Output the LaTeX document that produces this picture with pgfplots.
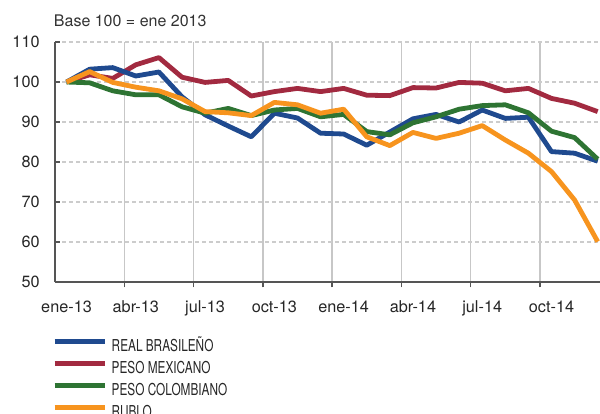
\documentclass[border=0pt]{standalone}
\usepackage{pgfplots}
\pgfplotsset{compat=1.18}
\usepackage{fontspec}
\setmainfont{TeX Gyre Heros}
\newfontfamily\legfont[FakeStretch=0.72]{TeX Gyre Heros}
\definecolor{cblue}{HTML}{1F4A8F}
\definecolor{cred}{HTML}{A22A40}
\definecolor{cgreen}{HTML}{2E7433}
\definecolor{corange}{HTML}{F7941E}
\definecolor{axgray}{HTML}{555555}
\begin{document}
\begin{tikzpicture}
\begin{axis}[
  scale only axis,
  width=408.75pt, height=180pt,
  xmin=-0.5, xmax=23.1,
  ymin=50, ymax=110,
  ytick={50,60,...,110},
  xtick={0,3,...,21},
  xticklabels={ene-13,abr-13,jul-13,oct-13,ene-14,abr-14,jul-14,oct-14},
  minor xtick={2.5,5.5,...,20.5},
  axis lines*=left,
  axis line style={draw=axgray, line width=1pt},
  tick align=inside,
  major tick length=4pt,
  minor tick length=4pt,
  major x tick style={draw=none},
  major y tick style={draw=axgray, line width=1pt},
  minor x tick style={draw=axgray, line width=1pt, yshift=-4pt},
  ymajorgrids=true,
  xminorgrids=true,
  major y grid style={draw=black!20, line width=1.1pt, dash pattern=on 3pt off 2.25pt},
  minor x grid style={draw=black!22, line width=1.1pt},
  tick label style={font=\fontsize{12.2}{14}\selectfont, text=black!85},
  yticklabel style={xshift=-8pt},
  xticklabel style={yshift=-10.5pt},
  /pgf/number format/assume math mode=true,
  title={Base 100 = ene 2013},
  title style={at={(0,1)}, anchor=west, yshift=10pt, xshift=-1pt, font=\fontsize{12}{14}\selectfont, text=black!80, inner sep=0pt},
  legend cell align=left,
  legend style={at={(0,0)}, anchor=north west, xshift=-2.25pt, yshift=-42.5pt,
    draw=none, fill=none, inner sep=0pt, row sep=5.3pt,
    font=\legfont\fontsize{12.3}{14}\selectfont, text=black!85,
    nodes={inner sep=0pt, text height=8.6pt, text depth=2pt}},
  legend image code/.code={\draw[#1, line width=3.6pt] (0pt,4.1pt) -- (37.5pt,4.1pt);},
  every axis plot/.append style={line width=3.6pt, line join=round},
]
\addlegendimage{cblue}
\addlegendentry{\hspace{3.5pt}REAL BRASILEÑO}
\addlegendimage{cred}
\addlegendentry{\hspace{3.5pt}PESO MEXICANO}
\addlegendimage{cgreen}
\addlegendentry{\hspace{3.5pt}PESO COLOMBIANO}
\addlegendimage{corange}
\addlegendentry{\hspace{3.5pt}RUBLO}

% PESO MEXICANO
\addplot[cred, forget plot] table {
0 100
1 101.8
2 100.9
3 104.3
4 106.1
5 101.2
6 99.9
7 100.4
8 96.5
9 97.6
10 98.4
11 97.6
12 98.4
13 96.7
14 96.6
15 98.6
16 98.5
17 99.9
18 99.7
19 97.8
20 98.4
21 95.9
22 94.7
23 92.6
};
% REAL BRASILENO
\addplot[cblue, forget plot] table {
0 100
1 103.2
2 103.6
3 101.5
4 102.5
5 96.3
6 91.8
7 89.0
8 86.3
9 92.2
10 91.0
11 87.2
12 87.0
13 84.2
14 87.5
15 90.8
16 91.9
17 90.0
18 93.0
19 90.9
20 91.2
21 82.6
22 82.2
23 80.2
};
% PESO COLOMBIANO
\addplot[cgreen, forget plot] table {
0 100
1 99.8
2 97.8
3 96.8
4 96.8
5 93.8
6 92.2
7 93.4
8 91.6
9 93.0
10 93.4
11 91.3
12 91.9
13 87.6
14 86.8
15 89.8
16 91.3
17 93.2
18 94.1
19 94.3
20 92.3
21 87.7
22 86.1
23 80.7
};
% RUBLO
\addplot[corange, forget plot] table {
0 100
1 102.6
2 99.9
3 98.7
4 97.8
5 95.8
6 92.6
7 92.3
8 91.6
9 94.9
10 94.3
11 92.2
12 93.2
13 86.3
14 84.1
15 87.4
16 85.9
17 87.2
18 89.1
19 85.5
20 82.2
21 77.6
22 70.5
23 60.1
};
\end{axis}
\pgfresetboundingbox
\path[use as bounding box] (-41.25pt,-99pt) rectangle (408.75pt,211.5pt);
\end{tikzpicture}
\end{document}
